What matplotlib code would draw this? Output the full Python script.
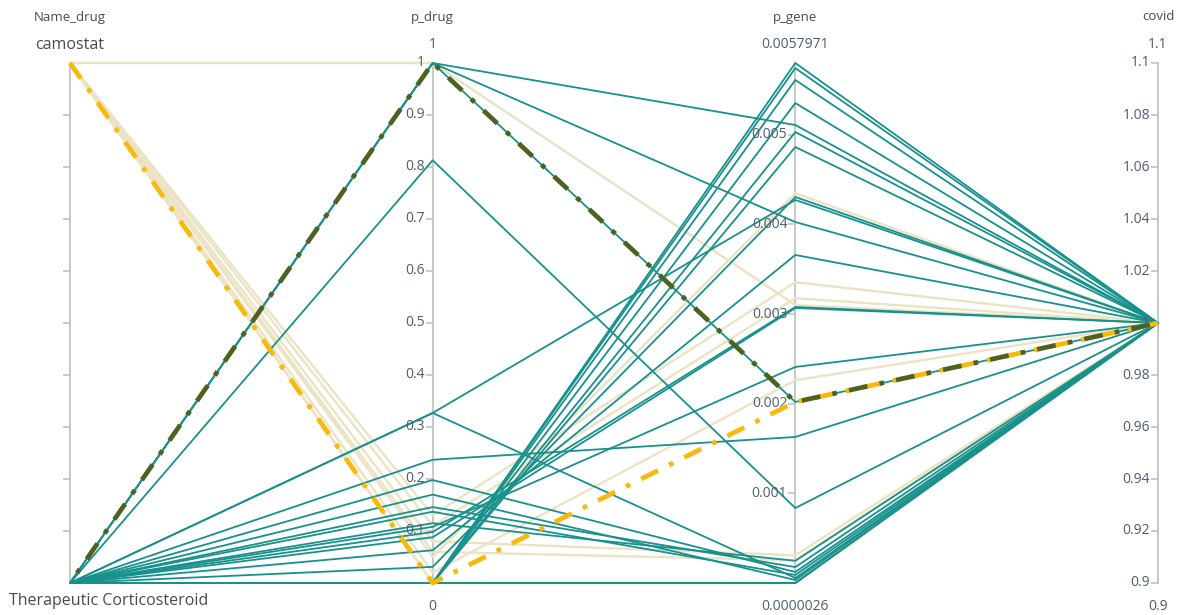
import matplotlib
matplotlib.use("Agg")
import matplotlib.pyplot as plt
import numpy as np

plt.rcParams["font.family"] = ["Open Sans", "DejaVu Sans"]

# ---- data ----
dims = ["Name_drug", "p_drug", "p_gene", "covid"]
name_levels = ["Therapeutic Corticosteroid", "camostat"]
p_drug_range = (0.0, 1.0)
p_gene_range = (0.0000026, 0.0057971)
covid_range = (0.9, 1.1)

# Therapeutic Corticosteroid records
tc_p_drug = [1.0, 1.0, 1.0, 0.813, 0.327, 0.327, 0.237, 0.198, 0.17, 0.146,
             0.137, 0.115, 0.108, 0.098, 0.088, 0.063, 0.031,
             0.0, 0.0, 0.0, 0.0, 0.0, 0.0, 0.0, 0.0]
tc_p_gene = [0.00202, 0.005106, 0.004025, 0.000838, 0.000058, 0.004271,
             0.00163, 0.000125, 0.000036, 0.00018, 0.000092, 0.00025,
             0.00241, 0.003078, 0.003067, 0.003658, 0.004304,
             0.0057971, 0.00574, 0.005608, 0.005351, 0.005028, 0.004861,
             0.0000026, 0.0000026]

# camostat records
cam_p_drug = [1.0, 0.0, 0.02, 0.05, 0.13, 0.11, 0.08, 0.06, 0.0]
cam_p_gene = [0.0031, 0.0000026, 0.002262, 0.004346, 0.003354, 0.003176,
              0.000312, 0.000256, 0.0000026]

covid_value = 1.0

# highlighted records: (name, p_drug, p_gene)
hl_olive = ("Therapeutic Corticosteroid", 1.0, 0.00202)
hl_yellow = ("camostat", 0.0, 0.00202)

p_drug_ticks = [0.1, 0.2, 0.3, 0.4, 0.5, 0.6, 0.7, 0.8, 0.9, 1.0]
p_drug_ticklabels = ["0.1", "0.2", "0.3", "0.4", "0.5", "0.6", "0.7", "0.8", "0.9", "1"]
p_gene_ticks = [0.001, 0.002, 0.003, 0.004, 0.005]
p_gene_ticklabels = ["0.001", "0.002", "0.003", "0.004", "0.005"]
covid_ticks = [0.9, 0.92, 0.94, 0.96, 0.98, 1.0, 1.02, 1.04, 1.06, 1.08, 1.1]
covid_ticklabels = ["0.9", "0.92", "0.94", "0.96", "0.98", "1", "1.02", "1.04",
                    "1.06", "1.08", "1.1"]
name_ticks = [0.1, 0.2, 0.3, 0.4, 0.5, 0.6, 0.7, 0.8, 0.9]

range_top = ["camostat", "1", "0.0057971", "1.1"]
range_bottom = ["Therapeutic Corticosteroid", "0", "0.0000026", "0.9"]

TEAL = "#17918c"
BEIGE = "#ebe3c3"
OLIVE = "#4f6121"
YELLOW = "#f8b909"
AXIS = "#c4c4c4"
TICKTXT = "#4f5b74"
HEAD = "#4a4a4a"


def norm(v, rng):
    lo, hi = rng
    return (np.asarray(v, dtype=float) - lo) / (hi - lo)


def name_pos(name):
    return name_levels.index(name) / (len(name_levels) - 1)


fig = plt.figure(figsize=(11.86, 6.15), dpi=100)
ax = fig.add_axes([70 / 1186, 1 - 583 / 615, (1158 - 70) / 1186, 520 / 615])
ax.set_xlim(0, 3)
ax.set_ylim(0, 1)
ax.axis("off")

xs = np.arange(4)

# axis lines
for x in xs:
    ax.plot([x, x], [0, 1], color=AXIS, lw=1.3, zorder=1, clip_on=False)


def draw_records(names, pdrug, pgene, color, lw, z):
    for n, d, g in zip(names, pdrug, pgene):
        ys = [name_pos(n), norm(d, p_drug_range), norm(g, p_gene_range),
              norm(covid_value, covid_range)]
        ax.plot(xs, ys, color=color, lw=lw, zorder=z, clip_on=False,
                solid_capstyle="round")


draw_records(["camostat"] * len(cam_p_drug), cam_p_drug, cam_p_gene, BEIGE, 1.7, 2)
draw_records(["Therapeutic Corticosteroid"] * len(tc_p_drug), tc_p_drug, tc_p_gene,
             TEAL, 1.3, 3)

# highlighted lines
for rec, color, off in [(hl_yellow, YELLOW, 0), (hl_olive, OLIVE, 4)]:
    n, d, g = rec
    ys = [name_pos(n), norm(d, p_drug_range), norm(g, p_gene_range),
          norm(covid_value, covid_range)]
    ax.plot(xs, ys, color=color, lw=3.4, zorder=5, clip_on=False,
            linestyle=(off, (4, 2.6, 1, 2.6)), dash_capstyle="butt")

# ticks
def draw_ticks(x, vals, rng, labels):
    ys = norm(vals, rng)
    ax.plot([x] * len(ys), ys, ls="", marker=0, markersize=5, color=AXIS,
            markeredgewidth=1.2, zorder=1, clip_on=False)
    if labels is None:
        return
    for y, lab in zip(ys, labels):
        ax.annotate(lab, xy=(x, y), xytext=(-8, 0), textcoords="offset pixels",
                    ha="right", va="center", fontsize=10, color=TICKTXT, zorder=4)


draw_ticks(0, name_ticks, (0, 1), None)
draw_ticks(1, p_drug_ticks, p_drug_range, p_drug_ticklabels)
draw_ticks(2, p_gene_ticks, p_gene_range, p_gene_ticklabels)
draw_ticks(3, covid_ticks, covid_range, covid_ticklabels)

# headers and range labels
for i, dim in enumerate(dims):
    ax.annotate(dim, xy=(i, 1), xytext=(0, 46), textcoords="offset pixels",
                ha="center", va="center", fontsize=9.5, color=HEAD)
    fs = 11.5 if i == 0 else 10
    col = HEAD if i == 0 else TICKTXT
    ax.annotate(range_top[i], xy=(i, 1), xytext=(0, 18), textcoords="offset pixels",
                ha="center", va="center", fontsize=fs, color=col)
    if i == 0:
        ax.annotate(range_bottom[i], xy=(i, 0), xytext=(-61, -18),
                    textcoords="offset pixels", ha="left", va="center",
                    fontsize=fs, color=col)
    else:
        ax.annotate(range_bottom[i], xy=(i, 0), xytext=(0, -24),
                    textcoords="offset pixels", ha="center", va="center",
                    fontsize=fs, color=col)

fig.savefig("out.png", dpi=100)
plt.close(fig)
